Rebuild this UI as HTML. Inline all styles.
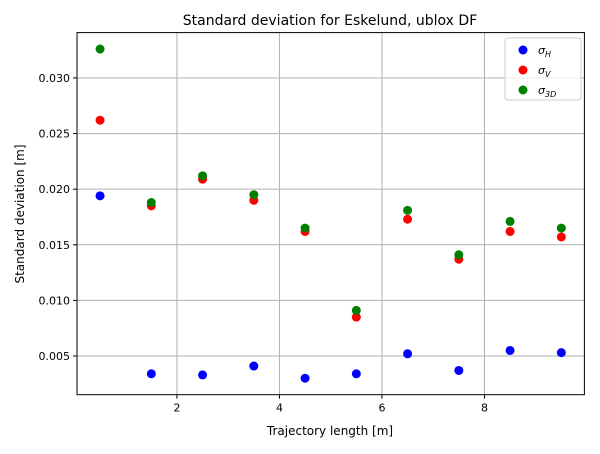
<!DOCTYPE html>
<html><head><meta charset="utf-8"><style>
body{margin:0;background:#fff;font-family:"DejaVu Sans","Liberation Sans",sans-serif;}
svg text{font-family:"DejaVu Sans","Liberation Sans",sans-serif;}
</style></head><body>
<svg id="chart" width="600" height="450" xmlns="http://www.w3.org/2000/svg">
<rect width="600" height="450" fill="#fff"/>
<g id="grid"></g>
<g id="marks"></g>
<rect x="77" y="32.6" width="507.4" height="362.1" fill="none" stroke="#000" stroke-width="1"/>
<g id="ticks"></g>
<text x="330" y="25" text-anchor="middle" font-size="14">Standard deviation for Eskelund, ublox DF</text>
<text x="330" y="435" text-anchor="middle" font-size="12">Trajectory length [m]</text>
<text transform="translate(24,214) rotate(-90)" text-anchor="middle" font-size="12">Standard deviation [m]</text>
<g>
<rect x="505" y="38" width="76" height="62" rx="3" fill="#fff" fill-opacity="0.8" stroke="#ccc"/>
<g><circle cx="523" cy="50" r="4.5" fill="#0000ff"/><text x="538" y="54" font-size="11" font-style="italic">σ<tspan font-size="8" dy="3">H</tspan></text></g>
<g><circle cx="523" cy="70" r="4.5" fill="#ff0000"/><text x="538" y="74" font-size="11" font-style="italic">σ<tspan font-size="8" dy="3">V</tspan></text></g>
<g><circle cx="523" cy="90" r="4.5" fill="#008000"/><text x="538" y="94" font-size="11" font-style="italic">σ<tspan font-size="8" dy="3">3D</tspan></text></g>
</g>
</svg>
<script>
const xs=[0.5,1.5,2.5,3.5,4.5,5.5,6.5,7.5,8.5,9.5];
const sigmaH=[0.0194,0.0034,0.0033,0.0041,0.0030,0.0034,0.0052,0.0037,0.0055,0.0053];
const sigmaV=[0.0262,0.0185,0.0209,0.0190,0.0162,0.0085,0.0173,0.0137,0.0162,0.0157];
const sigma3D=[0.0326,0.0188,0.0212,0.0195,0.0165,0.0091,0.0181,0.0141,0.0171,0.0165];
const xTicks=[2,4,6,8];
const yTicks=[0.005,0.010,0.015,0.020,0.025,0.030];
const NS="http://www.w3.org/2000/svg";
const L=77,R=584.4,T=32.6,B=394.7,xmin=0.05,xmax=9.95,ymin=0.00152,ymax=0.03408;
const sx=v=>L+(v-xmin)/(xmax-xmin)*(R-L);
const sy=v=>B-(v-ymin)/(ymax-ymin)*(B-T);
function mk(t,a,p){const e=document.createElementNS(NS,t);for(const k in a)e.setAttribute(k,a[k]);p.appendChild(e);return e;}
const grid=document.getElementById('grid'),ticks=document.getElementById('ticks'),marks=document.getElementById('marks');
xTicks.forEach(v=>{const x=sx(v);
const g=mk('line',{x1:x,x2:x,y1:T,y2:B,stroke:'#b0b0b0','stroke-width':1},grid);


mk('line',{x1:x,x2:x,y1:B,y2:B+4,stroke:'#000'},ticks);
const t=mk('text',{x:x,y:B+17,'text-anchor':'middle','font-size':11},ticks);t.textContent=v;

});
yTicks.forEach(v=>{const y=sy(v);
const g=mk('line',{x1:L,x2:R,y1:y,y2:y,stroke:'#b0b0b0','stroke-width':1},grid);


mk('line',{x1:L-4,x2:L,y1:y,y2:y,stroke:'#000'},ticks);
const t=mk('text',{x:L-7,y:y+4,'text-anchor':'end','font-size':11},ticks);t.textContent=v.toFixed(3);

});
[[sigmaH,'#0000ff','point-sigma-h'],[sigmaV,'#ff0000','point-sigma-v'],[sigma3D,'#008000','point-sigma-3d']].forEach(([arr,c,n])=>{
arr.forEach((v,i)=>{const p=mk('circle',{cx:sx(xs[i]),cy:sy(v),r:4.5,fill:c},marks);

});});
</script>
</body></html>
